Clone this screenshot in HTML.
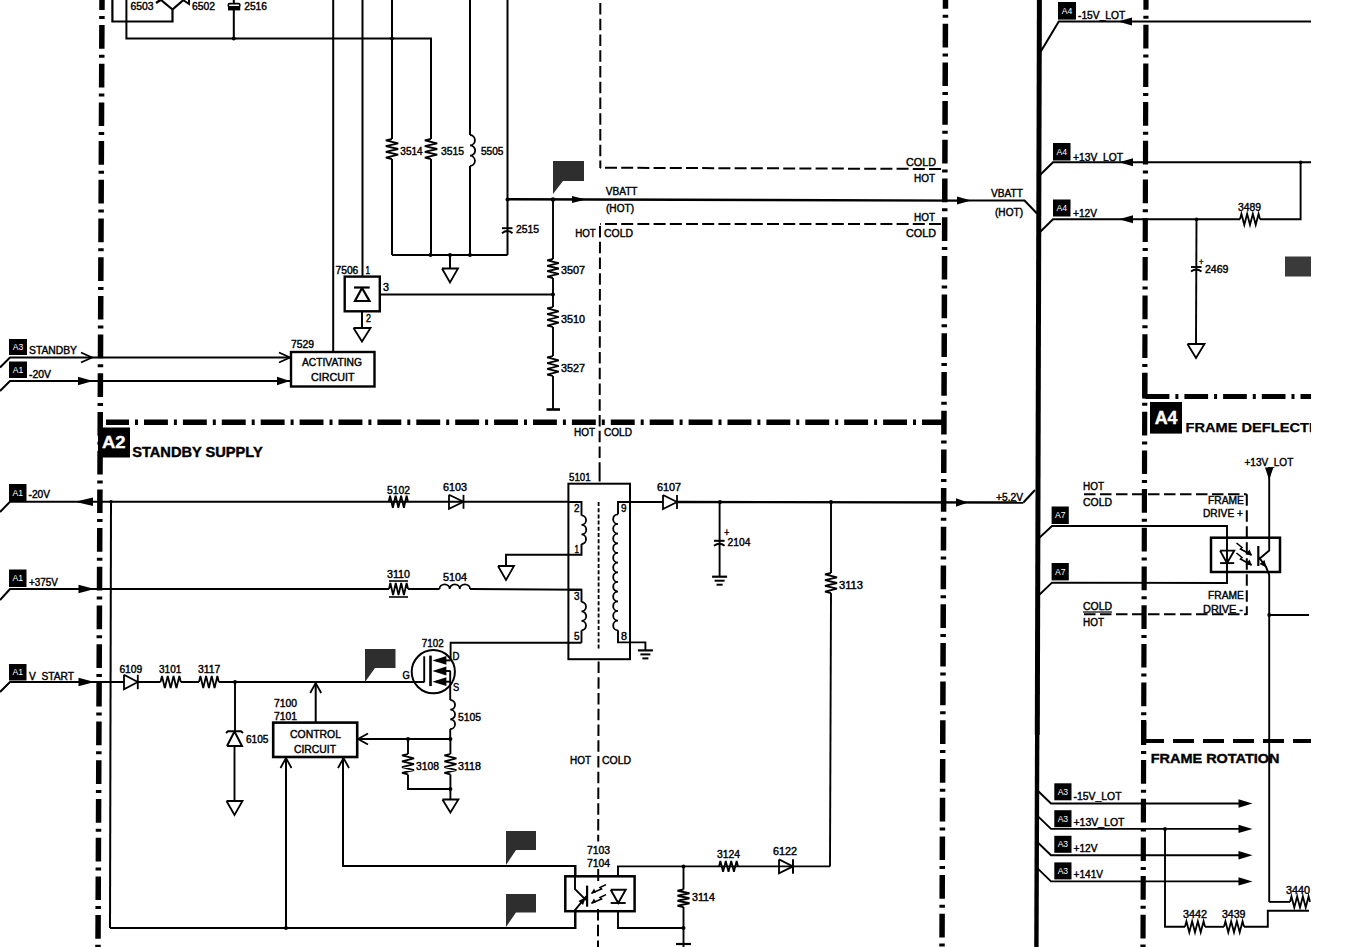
<!DOCTYPE html>
<html><head><meta charset="utf-8">
<style>
html,body{margin:0;padding:0;background:#fff;}
body{width:1345px;height:947px;overflow:hidden;}
svg{display:block;font-family:"Liberation Sans",sans-serif;}
</style></head><body>
<svg width="1345" height="947" viewBox="0 0 1345 947" stroke="#000" stroke-linecap="butt" stroke-linejoin="miter">
<rect x="0" y="0" width="1345" height="947" fill="#fff" stroke="none"/>
<line x1="102" y1="0" x2="98" y2="947" stroke-width="5.5" stroke-dasharray="23.7 6 3 6" stroke-dashoffset="13.7"/>
<line x1="945.5" y1="0" x2="942" y2="947" stroke-width="5.5" stroke-dasharray="23.7 6 3 6" stroke-dashoffset="15"/>
<line x1="1146" y1="0" x2="1143" y2="947" stroke-width="5.2" stroke-dasharray="23.7 6 3 6" stroke-dashoffset="14"/>
<line x1="106" y1="422.3" x2="945" y2="422.3" stroke-width="5.5" stroke-dasharray="23.9 6 3 6" stroke-dashoffset="0.9"/>
<line x1="1145" y1="396.5" x2="1311" y2="396.5" stroke-width="5.2" stroke-dasharray="23.7 6 3 6" stroke-dashoffset="38"/>
<line x1="1144.8" y1="372.7" x2="1144.8" y2="398.5" stroke-width="5"/>
<line x1="1142.5" y1="396.2" x2="1168" y2="396.2" stroke-width="4.2"/>
<line x1="1143" y1="741" x2="1311" y2="741" stroke-width="3.8" stroke-dasharray="21 9" stroke-dashoffset="0"/>
<line x1="1143.65" y1="720" x2="1143.65" y2="743" stroke-width="5.2"/>
<line x1="1039.4" y1="0" x2="1037.3" y2="735" stroke-width="5"/>
<line x1="1037.2" y1="735" x2="1036.4" y2="947" stroke-width="4.4"/>
<polyline points="112.4,0 112.4,21.5 172.5,21.5 172.5,9.5" stroke-width="2.2" fill="none"/>
<line x1="172.5" y1="9.5" x2="161" y2="0" stroke-width="2.2"/>
<line x1="156" y1="3" x2="162" y2="-1" stroke-width="2.4"/>
<line x1="172.5" y1="9.5" x2="183.5" y2="0" stroke-width="2.2"/>
<polyline points="183,0 189,4 189,0" stroke-width="2" fill="none"/>
<text x="130.4" y="10.2" font-size="10" font-weight="normal" fill="#000" stroke="#000" stroke-width="0.4" textLength="23.1" lengthAdjust="spacingAndGlyphs">6503</text>
<text x="192" y="10.2" font-size="10" font-weight="normal" fill="#000" stroke="#000" stroke-width="0.4" textLength="23" lengthAdjust="spacingAndGlyphs">6502</text>
<polyline points="126.4,0 126.4,38.5 431,38.5 431,139" stroke-width="2" fill="none"/>
<line x1="233.8" y1="0" x2="233.8" y2="38.5" stroke-width="2"/>
<rect x="228.3" y="3.6" width="11.6" height="3.2" rx="1.4" stroke-width="1.6" fill="#fff"/>
<rect x="228" y="7" width="12.2" height="3.4" stroke="none" fill="#000"/>
<text x="244.2" y="10.2" font-size="10" font-weight="normal" fill="#000" stroke="#000" stroke-width="0.4" textLength="22.8" lengthAdjust="spacingAndGlyphs">2516</text>
<circle cx="233.8" cy="38.5" r="2" fill="#000" stroke="none"/>
<circle cx="392" cy="38.5" r="2" fill="#000" stroke="none"/>
<line x1="333.2" y1="0" x2="333.2" y2="351" stroke-width="2"/>
<line x1="362.5" y1="0" x2="362.5" y2="276" stroke-width="2"/>
<line x1="392" y1="0" x2="392" y2="139" stroke-width="2"/>
<polyline points="392,139 385.8,140.43 398.2,143.29 385.8,146.14 398.2,149 385.8,151.86 398.2,154.71 385.8,157.57 392,159" stroke-width="1.8" fill="none"/>
<line x1="392" y1="159" x2="392" y2="255" stroke-width="2"/>
<polyline points="431,139 424.8,140.43 437.2,143.29 424.8,146.14 437.2,149 424.8,151.86 437.2,154.71 424.8,157.57 431,159" stroke-width="1.8" fill="none"/>
<line x1="431" y1="159" x2="431" y2="255" stroke-width="2"/>
<line x1="470" y1="0" x2="470" y2="135" stroke-width="2"/>
<path d="M470,135 A5.17,5.17 0 0 1 470,145.33 A5.17,5.17 0 0 1 470,155.67 A5.17,5.17 0 0 1 470,166" stroke-width="1.8" fill="none"/>
<line x1="470" y1="166" x2="470" y2="255" stroke-width="2"/>
<text x="400.3" y="154.5" font-size="10" font-weight="normal" fill="#000" stroke="#000" stroke-width="0.4" textLength="22.4" lengthAdjust="spacingAndGlyphs">3514</text>
<text x="441" y="154.5" font-size="10" font-weight="normal" fill="#000" stroke="#000" stroke-width="0.4" textLength="23" lengthAdjust="spacingAndGlyphs">3515</text>
<text x="481" y="154.5" font-size="10" font-weight="normal" fill="#000" stroke="#000" stroke-width="0.4" textLength="22.5" lengthAdjust="spacingAndGlyphs">5505</text>
<line x1="507.5" y1="0" x2="507.5" y2="255" stroke-width="2"/>
<polyline points="392,255 507.5,255" stroke-width="2" fill="none"/>
<circle cx="430.5" cy="255" r="2" fill="#000" stroke="none"/>
<circle cx="470" cy="255" r="2" fill="#000" stroke="none"/>
<circle cx="450" cy="255" r="2" fill="#000" stroke="none"/>
<line x1="450" y1="255" x2="450" y2="268.5" stroke-width="2"/>
<polyline points="442,268.5 458,268.5 450,282.5 442,268.5" stroke-width="1.8" fill="none"/>
<line x1="502" y1="228.2" x2="512.5" y2="228.2" stroke-width="1.9"/>
<path d="M502,233.2 Q507.5,228.8 512.5,233.2" stroke-width="1.9" fill="none"/>
<text x="516" y="233.3" font-size="10" font-weight="normal" fill="#000" stroke="#000" stroke-width="0.4" textLength="23" lengthAdjust="spacingAndGlyphs">2515</text>
<line x1="507.5" y1="199.3" x2="960" y2="200.6" stroke-width="2.4"/>
<circle cx="507.5" cy="199.5" r="2" fill="#000" stroke="none"/>
<circle cx="553" cy="199.5" r="2.2" fill="#000" stroke="none"/>
<polygon points="586,199.5 572,195.9 572,203.1" fill="#000" stroke="none" stroke-width="0"/>
<polygon points="553,161 584,161 584,181 563,181 553,194" fill="#2e2e2e" stroke="none" stroke-width="0"/>
<polyline points="553,199.5 553,259" stroke-width="1.9" fill="none"/>
<line x1="553" y1="278" x2="553" y2="307" stroke-width="1.9"/>
<line x1="553" y1="327" x2="553" y2="356" stroke-width="1.9"/>
<line x1="553" y1="376" x2="553" y2="409.5" stroke-width="1.9"/>
<polyline points="553,259 547.2,260.36 558.8,263.07 547.2,265.79 558.8,268.5 547.2,271.21 558.8,273.93 547.2,276.64 553,278" stroke-width="1.8" fill="none"/>
<polyline points="553,307 547.2,308.43 558.8,311.29 547.2,314.14 558.8,317 547.2,319.86 558.8,322.71 547.2,325.57 553,327" stroke-width="1.8" fill="none"/>
<polyline points="553,356 547.2,357.43 558.8,360.29 547.2,363.14 558.8,366 547.2,368.86 558.8,371.71 547.2,374.57 553,376" stroke-width="1.8" fill="none"/>
<line x1="546.5" y1="409.5" x2="560" y2="409.5" stroke-width="2.6"/>
<circle cx="553" cy="294.5" r="1.9" fill="#000" stroke="none"/>
<text x="561" y="273.5" font-size="10" font-weight="normal" fill="#000" stroke="#000" stroke-width="0.4" textLength="24" lengthAdjust="spacingAndGlyphs">3507</text>
<text x="561" y="322.5" font-size="10" font-weight="normal" fill="#000" stroke="#000" stroke-width="0.4" textLength="24" lengthAdjust="spacingAndGlyphs">3510</text>
<text x="561" y="371.5" font-size="10" font-weight="normal" fill="#000" stroke="#000" stroke-width="0.4" textLength="24" lengthAdjust="spacingAndGlyphs">3527</text>
<line x1="381" y1="294.5" x2="553" y2="294.5" stroke-width="1.9"/>
<rect x="344.7" y="276.6" width="35.1" height="34.7" stroke-width="2.4" fill="none"/>
<line x1="354" y1="287.5" x2="369.7" y2="287.5" stroke-width="2.2"/>
<polyline points="362,288 355,301 369.5,301 362,288" stroke-width="2.2" fill="none"/>
<text x="335.5" y="273.5" font-size="10" font-weight="normal" fill="#000" stroke="#000" stroke-width="0.4" textLength="22.8" lengthAdjust="spacingAndGlyphs">7506</text>
<text x="365.5" y="273.5" font-size="10" font-weight="normal" fill="#000" stroke="#000" stroke-width="0.4" textLength="4.5" lengthAdjust="spacingAndGlyphs">1</text>
<text x="383" y="291" font-size="10" font-weight="normal" fill="#000" stroke="#000" stroke-width="0.4" textLength="6" lengthAdjust="spacingAndGlyphs">3</text>
<text x="366" y="322" font-size="10" font-weight="normal" fill="#000" stroke="#000" stroke-width="0.4" textLength="5" lengthAdjust="spacingAndGlyphs">2</text>
<line x1="362" y1="312" x2="362" y2="328" stroke-width="2"/>
<polyline points="353.5,328 370.5,328 362,341.5 353.5,328" stroke-width="1.8" fill="none"/>
<rect x="291" y="352" width="83.5" height="34.5" stroke-width="2.4" fill="none"/>
<text x="302" y="366" font-size="10" font-weight="normal" fill="#000" stroke="#000" stroke-width="0.4" textLength="60" lengthAdjust="spacingAndGlyphs">ACTIVATING</text>
<text x="311" y="381" font-size="10" font-weight="normal" fill="#000" stroke="#000" stroke-width="0.4" textLength="43.5" lengthAdjust="spacingAndGlyphs">CIRCUIT</text>
<text x="291" y="347.5" font-size="10" font-weight="normal" fill="#000" stroke="#000" stroke-width="0.4" textLength="23" lengthAdjust="spacingAndGlyphs">7529</text>
<rect x="9" y="339" width="18" height="16" stroke="none" fill="#000"/>
<text x="18" y="350" font-size="8.6" text-anchor="middle" fill="#fff" stroke="none">A3</text>
<text x="29" y="354" font-size="10" font-weight="normal" fill="#000" stroke="#000" stroke-width="0.4" textLength="48" lengthAdjust="spacingAndGlyphs">STANDBY</text>
<polyline points="0,367.5 10,357.5 290,357.5" stroke-width="2" fill="none"/>
<polyline points="81,352.5 92,357.5 81,362.5" stroke-width="1.8" fill="none"/>
<polyline points="279,352.5 290,357.5 279,362.5" stroke-width="1.8" fill="none"/>
<rect x="9" y="361.5" width="18" height="16.5" stroke="none" fill="#000"/>
<text x="18" y="372.75" font-size="8.6" text-anchor="middle" fill="#fff" stroke="none">A1</text>
<text x="29" y="378" font-size="10" font-weight="normal" fill="#000" stroke="#000" stroke-width="0.4" textLength="22" lengthAdjust="spacingAndGlyphs">-20V</text>
<polyline points="0,391 10,381 290,381" stroke-width="2" fill="none"/>
<polygon points="93,381 78,376.8 78,385.2" fill="#000" stroke="none" stroke-width="0"/>
<polygon points="290,381 277,376.8 277,385.2" fill="#000" stroke="none" stroke-width="0"/>
<line x1="600.3" y1="3" x2="600.3" y2="168" stroke-width="2" stroke-dasharray="11.5 4.25" stroke-dashoffset="0"/>
<line x1="600" y1="167.7" x2="945" y2="169" stroke-width="2" stroke-dasharray="12 4.2" stroke-dashoffset="-5"/>
<text x="605.7" y="195" font-size="10" font-weight="normal" fill="#000" stroke="#000" stroke-width="0.4" textLength="31.8" lengthAdjust="spacingAndGlyphs">VBATT</text>
<text x="606" y="212" font-size="10" font-weight="normal" fill="#000" stroke="#000" stroke-width="0.4" textLength="28" lengthAdjust="spacingAndGlyphs">(HOT)</text>
<line x1="600" y1="224" x2="945" y2="224" stroke-width="2" stroke-dasharray="12 4.2" stroke-dashoffset="-5"/>
<text x="575.2" y="237" font-size="10" font-weight="normal" fill="#000" stroke="#000" stroke-width="0.4" textLength="20.6" lengthAdjust="spacingAndGlyphs">HOT</text>
<text x="604" y="237" font-size="10" font-weight="normal" fill="#000" stroke="#000" stroke-width="0.4" textLength="29" lengthAdjust="spacingAndGlyphs">COLD</text>
<line x1="600" y1="226" x2="599.6" y2="470" stroke-width="2" stroke-dasharray="11.5 4.25" stroke-dashoffset="0"/>
<text x="906" y="166" font-size="10" font-weight="normal" fill="#000" stroke="#000" stroke-width="0.4" textLength="30" lengthAdjust="spacingAndGlyphs">COLD</text>
<text x="914" y="182" font-size="10" font-weight="normal" fill="#000" stroke="#000" stroke-width="0.4" textLength="21" lengthAdjust="spacingAndGlyphs">HOT</text>
<text x="914" y="221" font-size="10" font-weight="normal" fill="#000" stroke="#000" stroke-width="0.4" textLength="21" lengthAdjust="spacingAndGlyphs">HOT</text>
<text x="906" y="237" font-size="10" font-weight="normal" fill="#000" stroke="#000" stroke-width="0.4" textLength="30" lengthAdjust="spacingAndGlyphs">COLD</text>
<text x="574" y="436" font-size="10" font-weight="normal" fill="#000" stroke="#000" stroke-width="0.4" textLength="21" lengthAdjust="spacingAndGlyphs">HOT</text>
<text x="604" y="436" font-size="10" font-weight="normal" fill="#000" stroke="#000" stroke-width="0.4" textLength="28" lengthAdjust="spacingAndGlyphs">COLD</text>
<polygon points="971,200.6 957,196.6 957,204.6" fill="#000" stroke="none" stroke-width="0"/>
<polyline points="960,200.6 1024.5,200.6 1037,213.5" stroke-width="2" fill="none"/>
<text x="991" y="197" font-size="10" font-weight="normal" fill="#000" stroke="#000" stroke-width="0.4" textLength="32" lengthAdjust="spacingAndGlyphs">VBATT</text>
<text x="995" y="215.5" font-size="10" font-weight="normal" fill="#000" stroke="#000" stroke-width="0.4" textLength="28" lengthAdjust="spacingAndGlyphs">(HOT)</text>
<rect x="98" y="427.5" width="32" height="30" stroke="none" fill="#000"/>
<text x="102" y="448" font-size="16" font-weight="bold" fill="#fff" stroke="#fff" stroke-width="0.4" textLength="23.5" lengthAdjust="spacingAndGlyphs">A2</text>
<text x="132.2" y="457.3" font-size="14" font-weight="bold" fill="#000" stroke="#000" stroke-width="0.4" textLength="130.5" lengthAdjust="spacingAndGlyphs">STANDBY SUPPLY</text>
<rect x="9" y="484" width="17.5" height="17" stroke="none" fill="#000"/>
<text x="17.75" y="495.5" font-size="8.6" text-anchor="middle" fill="#fff" stroke="none">A1</text>
<text x="28.5" y="497.5" font-size="10" font-weight="normal" fill="#000" stroke="#000" stroke-width="0.4" textLength="21.5" lengthAdjust="spacingAndGlyphs">-20V</text>
<polyline points="0,512 10,501.8 568.3,501.8" stroke-width="2" fill="none"/>
<polygon points="75,501.8 93,497.6 93,506" fill="#000" stroke="none" stroke-width="0"/>
<circle cx="111" cy="501.8" r="1.8" fill="#000" stroke="none"/>
<line x1="111" y1="501.8" x2="110" y2="928" stroke-width="2"/>
<polyline points="388.7,501.8 390.08,495.8 392.84,507.8 395.59,495.8 398.35,507.8 401.11,495.8 403.86,507.8 406.62,495.8 408,501.8" stroke-width="1.8" fill="none"/>
<polyline points="449,494.8 463.5,501.8 449,508.8 449,494.8" stroke-width="1.8" fill="none"/>
<line x1="463.5" y1="494.8" x2="463.5" y2="508.8" stroke-width="1.8"/>
<text x="387" y="494" font-size="10" font-weight="normal" fill="#000" stroke="#000" stroke-width="0.4" textLength="23" lengthAdjust="spacingAndGlyphs">5102</text>
<text x="443" y="491" font-size="10" font-weight="normal" fill="#000" stroke="#000" stroke-width="0.4" textLength="24" lengthAdjust="spacingAndGlyphs">6103</text>
<rect x="9" y="569.5" width="17.5" height="17.5" stroke="none" fill="#000"/>
<text x="17.75" y="581.25" font-size="8.6" text-anchor="middle" fill="#fff" stroke="none">A1</text>
<text x="29" y="585.5" font-size="10" font-weight="normal" fill="#000" stroke="#000" stroke-width="0.4" textLength="29" lengthAdjust="spacingAndGlyphs">+375V</text>
<polyline points="0,600 10,589 389,589" stroke-width="2" fill="none"/>
<polygon points="94.5,589 78.5,584.8 78.5,593.2" fill="#000" stroke="none" stroke-width="0"/>
<polyline points="389,589 390.36,583 393.07,595 395.79,583 398.5,595 401.21,583 403.93,595 406.64,583 408,589" stroke-width="1.8" fill="none"/>
<line x1="389" y1="581" x2="408" y2="581" stroke-width="1.6"/>
<line x1="389" y1="597" x2="408" y2="597" stroke-width="1.6"/>
<text x="387" y="578" font-size="10" font-weight="normal" fill="#000" stroke="#000" stroke-width="0.4" textLength="23" lengthAdjust="spacingAndGlyphs">3110</text>
<line x1="408" y1="589" x2="439.5" y2="589" stroke-width="2"/>
<path d="M439.5,589 A5.08,4.58 0 0 1 449.67,589 A5.08,4.58 0 0 1 459.83,589 A5.08,4.58 0 0 1 470,589" stroke-width="1.8" fill="none"/>
<polyline points="470,589 581.5,589.8" stroke-width="2" fill="none"/>
<text x="443" y="581" font-size="10" font-weight="normal" fill="#000" stroke="#000" stroke-width="0.4" textLength="24" lengthAdjust="spacingAndGlyphs">5104</text>
<rect x="9" y="664" width="17.5" height="16.5" stroke="none" fill="#000"/>
<text x="17.75" y="675.25" font-size="8.6" text-anchor="middle" fill="#fff" stroke="none">A1</text>
<text x="29" y="679.5" font-size="10" font-weight="normal" fill="#000" stroke="#000" stroke-width="0.4" textLength="45" lengthAdjust="spacingAndGlyphs">V_START</text>
<polyline points="0,692 10,682 124,682" stroke-width="2" fill="none"/>
<polygon points="94.5,682 78.5,677.8 78.5,686.2" fill="#000" stroke="none" stroke-width="0"/>
<polyline points="124,674.8 137.8,682 124,689.2 124,674.8" stroke-width="1.8" fill="none"/>
<line x1="137.8" y1="674.8" x2="137.8" y2="689.2" stroke-width="1.8"/>
<line x1="137.8" y1="682" x2="160.5" y2="682" stroke-width="2"/>
<polyline points="160.5,682 161.95,676 164.85,688 167.75,676 170.65,688 173.55,676 176.45,688 179.35,676 180.8,682" stroke-width="1.8" fill="none"/>
<line x1="180.8" y1="682" x2="199" y2="682" stroke-width="2"/>
<polyline points="199,682 200.41,676 203.24,688 206.07,676 208.9,688 211.73,676 214.56,688 217.39,676 218.8,682" stroke-width="1.8" fill="none"/>
<line x1="218.8" y1="682" x2="424.2" y2="682" stroke-width="2.2"/>
<text x="119.4" y="672.5" font-size="10" font-weight="normal" fill="#000" stroke="#000" stroke-width="0.4" textLength="22.9" lengthAdjust="spacingAndGlyphs">6109</text>
<text x="159" y="672.5" font-size="10" font-weight="normal" fill="#000" stroke="#000" stroke-width="0.4" textLength="22.3" lengthAdjust="spacingAndGlyphs">3101</text>
<text x="198" y="672.5" font-size="10" font-weight="normal" fill="#000" stroke="#000" stroke-width="0.4" textLength="22.3" lengthAdjust="spacingAndGlyphs">3117</text>
<circle cx="235" cy="682" r="2" fill="#000" stroke="none"/>
<line x1="235" y1="682" x2="235" y2="731" stroke-width="1.9"/>
<polyline points="227,746 242,746 234.5,731.5 227,746" stroke-width="2" fill="none"/>
<polyline points="226,733 228,731.2 241,731.2 243,733" stroke-width="2" fill="none"/>
<line x1="234.5" y1="746" x2="234.5" y2="801" stroke-width="1.9"/>
<polyline points="226.5,801 242.5,801 234.5,815 226.5,801" stroke-width="1.8" fill="none"/>
<text x="246" y="743" font-size="10" font-weight="normal" fill="#000" stroke="#000" stroke-width="0.4" textLength="22.5" lengthAdjust="spacingAndGlyphs">6105</text>
<rect x="273.2" y="722.6" width="84" height="34.4" stroke-width="2.6" fill="none"/>
<text x="290" y="738" font-size="10" font-weight="normal" fill="#000" stroke="#000" stroke-width="0.4" textLength="51" lengthAdjust="spacingAndGlyphs">CONTROL</text>
<text x="294" y="752.5" font-size="10" font-weight="normal" fill="#000" stroke="#000" stroke-width="0.4" textLength="42" lengthAdjust="spacingAndGlyphs">CIRCUIT</text>
<text x="274" y="707" font-size="10" font-weight="normal" fill="#000" stroke="#000" stroke-width="0.4" textLength="23" lengthAdjust="spacingAndGlyphs">7100</text>
<text x="274" y="719.5" font-size="10" font-weight="normal" fill="#000" stroke="#000" stroke-width="0.4" textLength="23" lengthAdjust="spacingAndGlyphs">7101</text>
<line x1="315.7" y1="723" x2="315.7" y2="683" stroke-width="2"/>
<polyline points="310.2,693 315.7,683 321.2,693" stroke-width="1.8" fill="none"/>
<line x1="286" y1="928" x2="286" y2="758" stroke-width="2"/>
<polyline points="280.5,768 286,758 291.5,768" stroke-width="1.8" fill="none"/>
<polyline points="343,758 343,866 575.5,866 575.5,876" stroke-width="2" fill="none"/>
<polyline points="338,768 343.5,758 349,768" stroke-width="1.8" fill="none"/>
<polyline points="110,928 575.5,928 575.5,912" stroke-width="2" fill="none"/>
<circle cx="286" cy="928" r="2" fill="#000" stroke="none"/>
<line x1="358" y1="739" x2="450.4" y2="739" stroke-width="1.9"/>
<polyline points="368,733.5 358,739 368,744.5" stroke-width="1.8" fill="none"/>
<circle cx="408" cy="739" r="2" fill="#000" stroke="none"/>
<circle cx="450.4" cy="739" r="2" fill="#000" stroke="none"/>
<line x1="408" y1="739" x2="408" y2="754" stroke-width="1.9"/>
<polyline points="408,754 402,755.46 414,758.37 402,761.29 414,764.2 402,767.11 414,770.03 402,772.94 408,774.4" stroke-width="1.8" fill="none"/>
<polyline points="408,774.4 408,789 450.4,789" stroke-width="1.9" fill="none"/>
<line x1="450.4" y1="739" x2="450.4" y2="754" stroke-width="1.9"/>
<polyline points="450.4,754 444.4,755.46 456.4,758.37 444.4,761.29 456.4,764.2 444.4,767.11 456.4,770.03 444.4,772.94 450.4,774.4" stroke-width="1.8" fill="none"/>
<line x1="450.4" y1="774.4" x2="450.4" y2="799.5" stroke-width="1.9"/>
<circle cx="450.4" cy="789" r="2" fill="#000" stroke="none"/>
<polyline points="442.4,799.5 458.4,799.5 450.4,812.5 442.4,799.5" stroke-width="1.8" fill="none"/>
<text x="416" y="770" font-size="10" font-weight="normal" fill="#000" stroke="#000" stroke-width="0.4" textLength="23" lengthAdjust="spacingAndGlyphs">3108</text>
<text x="458" y="770" font-size="10" font-weight="normal" fill="#000" stroke="#000" stroke-width="0.4" textLength="23" lengthAdjust="spacingAndGlyphs">3118</text>
<polygon points="365,649 395.5,649 395.5,668 375,668 365,682" fill="#2e2e2e" stroke="none" stroke-width="0"/>
<polygon points="506,831 536,831 536,850 516,850 506,865" fill="#2e2e2e" stroke="none" stroke-width="0"/>
<polygon points="506,894 536,894 536,912.5 516,912.5 506,927" fill="#2e2e2e" stroke="none" stroke-width="0"/>
<circle cx="433.3" cy="671.7" r="21.6" stroke-width="2" fill="none"/>
<line x1="424.2" y1="682.3" x2="424.2" y2="656.3" stroke-width="1.9"/>
<line x1="430.5" y1="655.6" x2="430.5" y2="686.1" stroke-width="2.6"/>
<line x1="436" y1="660.4" x2="450.6" y2="660.4" stroke-width="1.9"/>
<polygon points="432.4,660.4 446.4,656 446.4,664.8" fill="#000" stroke="none" stroke-width="0"/>
<line x1="436" y1="671" x2="450.6" y2="671" stroke-width="1.9"/>
<polygon points="432.4,671 446.4,666.6 446.4,675.4" fill="#000" stroke="none" stroke-width="0"/>
<line x1="436" y1="681.7" x2="450.6" y2="681.7" stroke-width="1.9"/>
<polygon points="432.4,681.7 446.4,677.3 446.4,686.1" fill="#000" stroke="none" stroke-width="0"/>
<polyline points="581.5,642.8 450.6,642.8 450.6,660.4" stroke-width="1.9" fill="none"/>
<polyline points="450.2,671 450.2,700" stroke-width="1.9" fill="none"/>
<path d="M450.2,700 A4.83,4.83 0 0 1 450.2,709.67 A4.83,4.83 0 0 1 450.2,719.33 A4.83,4.83 0 0 1 450.2,729" stroke-width="1.8" fill="none"/>
<line x1="450.2" y1="729" x2="450.2" y2="739" stroke-width="1.9"/>
<text x="421.8" y="646.5" font-size="10" font-weight="normal" fill="#000" stroke="#000" stroke-width="0.4" textLength="21.9" lengthAdjust="spacingAndGlyphs">7102</text>
<text x="452.6" y="660.4" font-size="10" font-weight="normal" fill="#000" stroke="#000" stroke-width="0.4" textLength="6.9" lengthAdjust="spacingAndGlyphs">D</text>
<text x="402.5" y="679" font-size="10" font-weight="normal" fill="#000" stroke="#000" stroke-width="0.4" textLength="7.3" lengthAdjust="spacingAndGlyphs">G</text>
<text x="453" y="690.5" font-size="10" font-weight="normal" fill="#000" stroke="#000" stroke-width="0.4" textLength="6.2" lengthAdjust="spacingAndGlyphs">S</text>
<text x="458" y="721" font-size="10" font-weight="normal" fill="#000" stroke="#000" stroke-width="0.4" textLength="23" lengthAdjust="spacingAndGlyphs">5105</text>
<rect x="568.4" y="483.7" width="61.6" height="175.5" stroke-width="2" fill="none"/>
<text x="569" y="480.5" font-size="10" font-weight="normal" fill="#000" stroke="#000" stroke-width="0.4" textLength="21.6" lengthAdjust="spacingAndGlyphs">5101</text>
<polyline points="568.3,502 581.5,502 581.5,515.4" stroke-width="1.9" fill="none"/>
<path d="M581.5,515.4 A4.77,4.77 0 0 1 581.5,524.93 A4.77,4.77 0 0 1 581.5,534.47 A4.77,4.77 0 0 1 581.5,544" stroke-width="1.8" fill="none"/>
<polyline points="581.5,544 581.5,554.8 506,554.8 506,566" stroke-width="1.9" fill="none"/>
<polyline points="498,566 514,566 506,580 498,566" stroke-width="1.8" fill="none"/>
<polyline points="568.3,589.8 581.5,589.8 581.5,602" stroke-width="1.9" fill="none"/>
<path d="M581.5,602 A4.72,4.72 0 0 1 581.5,611.43 A4.72,4.72 0 0 1 581.5,620.87 A4.72,4.72 0 0 1 581.5,630.3" stroke-width="1.8" fill="none"/>
<polyline points="581.5,630.3 581.5,642.8" stroke-width="1.9" fill="none"/>
<text x="574" y="512.2" font-size="10" font-weight="normal" fill="#000" stroke="#000" stroke-width="0.4" textLength="5.5" lengthAdjust="spacingAndGlyphs">2</text>
<text x="574.5" y="553" font-size="10" font-weight="normal" fill="#000" stroke="#000" stroke-width="0.4" textLength="4.5" lengthAdjust="spacingAndGlyphs">1</text>
<text x="574" y="599.5" font-size="10" font-weight="normal" fill="#000" stroke="#000" stroke-width="0.4" textLength="5.5" lengthAdjust="spacingAndGlyphs">3</text>
<text x="574" y="640" font-size="10" font-weight="normal" fill="#000" stroke="#000" stroke-width="0.4" textLength="5.5" lengthAdjust="spacingAndGlyphs">5</text>
<polyline points="630,502 618,502 618,514.3" stroke-width="1.9" fill="none"/>
<path d="M618,514.3 A4.83,4.83 0 0 0 618,523.97 A4.83,4.83 0 0 0 618,533.63 A4.83,4.83 0 0 0 618,543.3 A4.83,4.83 0 0 0 618,552.97 A4.83,4.83 0 0 0 618,562.63 A4.83,4.83 0 0 0 618,572.3 A4.83,4.83 0 0 0 618,581.97 A4.83,4.83 0 0 0 618,591.63 A4.83,4.83 0 0 0 618,601.3 A4.83,4.83 0 0 0 618,610.97 A4.83,4.83 0 0 0 618,620.63 A4.83,4.83 0 0 0 618,630.3" stroke-width="1.8" fill="none"/>
<polyline points="618,630.3 618,642.4 645.4,642.4 645.4,650.4" stroke-width="1.9" fill="none"/>
<line x1="637.9" y1="650.4" x2="652.9" y2="650.4" stroke-width="2.2"/>
<line x1="640.4" y1="654.4" x2="650.4" y2="654.4" stroke-width="2"/>
<line x1="642.4" y1="658.4" x2="648.4" y2="658.4" stroke-width="2"/>
<text x="621" y="512.2" font-size="10" font-weight="normal" fill="#000" stroke="#000" stroke-width="0.4" textLength="5.5" lengthAdjust="spacingAndGlyphs">9</text>
<text x="621" y="640" font-size="10" font-weight="normal" fill="#000" stroke="#000" stroke-width="0.4" textLength="6" lengthAdjust="spacingAndGlyphs">8</text>
<line x1="598.6" y1="502" x2="598.6" y2="650" stroke-width="1.8" stroke-dasharray="4 2.2" stroke-dashoffset="0"/>
<polyline points="630,502 663,502" stroke-width="2.2" fill="none"/>
<polyline points="663,495 677,502 663,509 663,495" stroke-width="1.8" fill="none"/>
<line x1="677" y1="495" x2="677" y2="509" stroke-width="1.8"/>
<line x1="677" y1="502" x2="1023.4" y2="502.5" stroke-width="2.4"/>
<polyline points="1023.4,502.5 1035,490" stroke-width="2" fill="none"/>
<polygon points="968,502.5 956,498.3 956,506.7" fill="#000" stroke="none" stroke-width="0"/>
<text x="657" y="491" font-size="10" font-weight="normal" fill="#000" stroke="#000" stroke-width="0.4" textLength="24" lengthAdjust="spacingAndGlyphs">6107</text>
<text x="996" y="501" font-size="10" font-weight="normal" fill="#000" stroke="#000" stroke-width="0.4" textLength="27" lengthAdjust="spacingAndGlyphs">+5.2V</text>
<circle cx="720" cy="502" r="2" fill="#000" stroke="none"/>
<line x1="719.6" y1="502" x2="719.6" y2="576.7" stroke-width="1.9"/>
<line x1="714" y1="540.8" x2="724.6" y2="540.8" stroke-width="2"/>
<path d="M714,545.8 Q719.6,541.6 724.6,545.8" stroke-width="1.9" fill="none"/>
<line x1="712.1" y1="576.7" x2="727.1" y2="576.7" stroke-width="2.2"/>
<line x1="714.6" y1="580.7" x2="724.6" y2="580.7" stroke-width="2"/>
<line x1="716.6" y1="584.7" x2="722.6" y2="584.7" stroke-width="2"/>
<text x="724.2" y="536" font-size="10" font-weight="normal" fill="#000" stroke="#000" stroke-width="0.4" textLength="5.1" lengthAdjust="spacingAndGlyphs">+</text>
<text x="727.6" y="546" font-size="10" font-weight="normal" fill="#000" stroke="#000" stroke-width="0.4" textLength="22.8" lengthAdjust="spacingAndGlyphs">2104</text>
<circle cx="831" cy="502" r="2" fill="#000" stroke="none"/>
<line x1="831" y1="502" x2="831" y2="573" stroke-width="1.9"/>
<polyline points="831,573 825,574.43 837,577.29 825,580.14 837,583 825,585.86 837,588.71 825,591.57 831,593" stroke-width="1.8" fill="none"/>
<line x1="831" y1="593" x2="830" y2="866.4" stroke-width="1.9"/>
<text x="839" y="589" font-size="10" font-weight="normal" fill="#000" stroke="#000" stroke-width="0.4" textLength="24" lengthAdjust="spacingAndGlyphs">3113</text>
<text x="570" y="763.5" font-size="10" font-weight="normal" fill="#000" stroke="#000" stroke-width="0.4" textLength="21" lengthAdjust="spacingAndGlyphs">HOT</text>
<text x="602" y="763.5" font-size="10" font-weight="normal" fill="#000" stroke="#000" stroke-width="0.4" textLength="29" lengthAdjust="spacingAndGlyphs">COLD</text>
<line x1="599.6" y1="470" x2="599.6" y2="483" stroke-width="2" stroke-dasharray="11.5 4.25" stroke-dashoffset="0"/>
<line x1="598.6" y1="661.4" x2="598.2" y2="841.5" stroke-width="2" stroke-dasharray="11.5 4.25" stroke-dashoffset="0"/>
<line x1="598.2" y1="869" x2="598.2" y2="881" stroke-width="2"/>
<line x1="598" y1="909" x2="598" y2="947" stroke-width="2" stroke-dasharray="11.5 4.25" stroke-dashoffset="0"/>
<rect x="565.3" y="876.3" width="69.3" height="34.9" stroke-width="2.5" fill="none"/>
<text x="587" y="853.5" font-size="10" font-weight="normal" fill="#000" stroke="#000" stroke-width="0.4" textLength="23" lengthAdjust="spacingAndGlyphs">7103</text>
<text x="587" y="866.5" font-size="10" font-weight="normal" fill="#000" stroke="#000" stroke-width="0.4" textLength="23" lengthAdjust="spacingAndGlyphs">7104</text>
<polyline points="575,866 575,889.2 586.1,900.2" stroke-width="1.9" fill="none"/>
<line x1="587.1" y1="885.6" x2="587.1" y2="906.7" stroke-width="2.2"/>
<polyline points="586.5,896 575,910.2 575,928" stroke-width="1.9" fill="none"/>
<polygon points="586,897 578.5,901 583,905" fill="#000" stroke="none" stroke-width="0"/>
<polyline points="606,884.6 600,887.5 601.5,889 591.5,893.2" stroke-width="1.6" fill="none"/>
<polygon points="591.1,893.4 594,888.5 596,892.5" fill="#000" stroke="none" stroke-width="0"/>
<polyline points="606,894.6 600,897.5 601.5,899 591.5,903.2" stroke-width="1.6" fill="none"/>
<polygon points="591.1,903.4 594,898.5 596,902.5" fill="#000" stroke="none" stroke-width="0"/>
<polyline points="610.7,889.7 625.7,889.7 618.2,903 610.7,889.7" stroke-width="1.9" fill="none"/>
<line x1="610.7" y1="903" x2="625.7" y2="903" stroke-width="1.9"/>
<polyline points="618,876 618,866.4 830,866.4" stroke-width="1.9" fill="none"/>
<polyline points="618,912 618,928 683.5,928" stroke-width="1.9" fill="none"/>
<circle cx="683.5" cy="866.4" r="2" fill="#000" stroke="none"/>
<circle cx="683.5" cy="928" r="2" fill="#000" stroke="none"/>
<line x1="683.5" y1="866.4" x2="683.5" y2="889.5" stroke-width="1.9"/>
<polyline points="683.5,889.5 677.5,890.75 689.5,893.25 677.5,895.75 689.5,898.25 677.5,900.75 689.5,903.25 677.5,905.75 683.5,907" stroke-width="1.8" fill="none"/>
<line x1="683.5" y1="907" x2="683.5" y2="947" stroke-width="1.9"/>
<line x1="676" y1="944" x2="691" y2="944" stroke-width="2.2"/>
<text x="692" y="901" font-size="10" font-weight="normal" fill="#000" stroke="#000" stroke-width="0.4" textLength="23" lengthAdjust="spacingAndGlyphs">3114</text>
<polyline points="719,866.4 720.36,860.9 723.07,871.9 725.79,860.9 728.5,871.9 731.21,860.9 733.93,871.9 736.64,860.9 738,866.4" stroke-width="1.8" fill="none"/>
<polyline points="779,859.4 793,866.4 779,873.4 779,859.4" stroke-width="1.8" fill="none"/>
<line x1="793" y1="859.4" x2="793" y2="873.4" stroke-width="1.8"/>
<line x1="793" y1="859.4" x2="793" y2="873.4" stroke-width="1.9"/>
<text x="717" y="858" font-size="10" font-weight="normal" fill="#000" stroke="#000" stroke-width="0.4" textLength="23" lengthAdjust="spacingAndGlyphs">3124</text>
<text x="773" y="855" font-size="10" font-weight="normal" fill="#000" stroke="#000" stroke-width="0.4" textLength="24" lengthAdjust="spacingAndGlyphs">6122</text>
<rect x="1058" y="2" width="18" height="17.6" stroke="none" fill="#000"/>
<text x="1067" y="13.8" font-size="8.6" text-anchor="middle" fill="#fff" stroke="none">A4</text>
<text x="1078" y="18.7" font-size="10" font-weight="normal" fill="#000" stroke="#000" stroke-width="0.4" textLength="47.3" lengthAdjust="spacingAndGlyphs">-15V_LOT</text>
<polyline points="1040.5,52 1058.8,21.4 1311,21.6" stroke-width="2" fill="none"/>
<polygon points="1118,21.5 1132,17.5 1132,25.5" fill="#000" stroke="none" stroke-width="0"/>
<rect x="1053" y="143" width="17.5" height="17.5" stroke="none" fill="#000"/>
<text x="1061.75" y="154.75" font-size="8.6" text-anchor="middle" fill="#fff" stroke="none">A4</text>
<text x="1073" y="160.5" font-size="10" font-weight="normal" fill="#000" stroke="#000" stroke-width="0.4" textLength="50" lengthAdjust="spacingAndGlyphs">+13V_LOT</text>
<polyline points="1040,175 1053,162.3 1311,162.3" stroke-width="2" fill="none"/>
<polygon points="1119,162.3 1133,158.3 1133,166.3" fill="#000" stroke="none" stroke-width="0"/>
<circle cx="1300.6" cy="162.3" r="1.9" fill="#000" stroke="none"/>
<polyline points="1300.6,162.3 1300.6,219.3 1260,219.3" stroke-width="1.9" fill="none"/>
<polyline points="1240,219.3 1241.43,213.8 1244.29,224.8 1247.14,213.8 1250,224.8 1252.86,213.8 1255.71,224.8 1258.57,213.8 1260,219.3" stroke-width="1.8" fill="none"/>
<rect x="1053" y="199.5" width="17.5" height="17" stroke="none" fill="#000"/>
<text x="1061.75" y="211" font-size="8.6" text-anchor="middle" fill="#fff" stroke="none">A4</text>
<text x="1073" y="216.5" font-size="10" font-weight="normal" fill="#000" stroke="#000" stroke-width="0.4" textLength="24" lengthAdjust="spacingAndGlyphs">+12V</text>
<polyline points="1040,232 1053,219.3 1240,219.3" stroke-width="2" fill="none"/>
<polygon points="1119,219.3 1133,215.3 1133,223.3" fill="#000" stroke="none" stroke-width="0"/>
<text x="1238" y="211" font-size="10" font-weight="normal" fill="#000" stroke="#000" stroke-width="0.4" textLength="23" lengthAdjust="spacingAndGlyphs">3489</text>
<circle cx="1196.5" cy="219.3" r="1.9" fill="#000" stroke="none"/>
<line x1="1196.5" y1="219.3" x2="1196" y2="344" stroke-width="1.9"/>
<line x1="1191" y1="267" x2="1201.5" y2="267" stroke-width="1.9"/>
<path d="M1191,271.5 Q1196.2,267.6 1201.5,271.5" stroke-width="1.9" fill="none"/>
<text x="1199" y="265" font-size="9" font-weight="normal" fill="#000" stroke="#000" stroke-width="0.4" textLength="4.5" lengthAdjust="spacingAndGlyphs">+</text>
<text x="1205" y="273" font-size="10" font-weight="normal" fill="#000" stroke="#000" stroke-width="0.4" textLength="23.5" lengthAdjust="spacingAndGlyphs">2469</text>
<polyline points="1187.5,344 1204.5,344 1196,358 1187.5,344" stroke-width="1.8" fill="none"/>
<rect x="1285" y="256.5" width="26" height="20" stroke="none" fill="#3a3a3a"/>
<rect x="1150" y="402" width="32" height="31.6" stroke="none" fill="#000"/>
<text x="1154.7" y="423.8" font-size="17.5" font-weight="bold" fill="#fff" stroke="#fff" stroke-width="0.4" textLength="22.8" lengthAdjust="spacingAndGlyphs">A4</text>
<svg x="1184" y="410" width="127" height="30" overflow="hidden"><text x="1.5" y="21.8" font-size="13.2" font-weight="bold" fill="#000" stroke="#000" stroke-width="0.25" textLength="149.4" lengthAdjust="spacingAndGlyphs">FRAME DEFLECTION</text></svg>
<text x="1244.5" y="465.5" font-size="10" font-weight="normal" fill="#000" stroke="#000" stroke-width="0.4" textLength="48.8" lengthAdjust="spacingAndGlyphs">+13V_LOT</text>
<polygon points="1269.2,480 1265,467.5 1273.4,467.5" fill="#000" stroke="none" stroke-width="0"/>
<polyline points="1269.2,470 1269.2,550.6 1258.6,559.4" stroke-width="1.9" fill="none"/>
<text x="1083" y="490" font-size="10" font-weight="normal" fill="#000" stroke="#000" stroke-width="0.4" textLength="21" lengthAdjust="spacingAndGlyphs">HOT</text>
<line x1="1084" y1="494.2" x2="1246.7" y2="494.2" stroke-width="2" stroke-dasharray="11.5 4.5" stroke-dashoffset="0"/>
<line x1="1246.8" y1="494.2" x2="1246.8" y2="615" stroke-width="2" stroke-dasharray="11.5 4.5" stroke-dashoffset="0"/>
<text x="1083" y="506" font-size="10" font-weight="normal" fill="#000" stroke="#000" stroke-width="0.4" textLength="29" lengthAdjust="spacingAndGlyphs">COLD</text>
<text x="1208" y="503.5" font-size="10" font-weight="normal" fill="#000" stroke="#000" stroke-width="0.4" textLength="35.8" lengthAdjust="spacingAndGlyphs">FRAME</text>
<text x="1203" y="516.5" font-size="10" font-weight="normal" fill="#000" stroke="#000" stroke-width="0.4" textLength="40" lengthAdjust="spacingAndGlyphs">DRIVE +</text>
<text x="1208" y="599" font-size="10" font-weight="normal" fill="#000" stroke="#000" stroke-width="0.4" textLength="35.8" lengthAdjust="spacingAndGlyphs">FRAME</text>
<text x="1203" y="612.5" font-size="10" font-weight="normal" fill="#000" stroke="#000" stroke-width="0.4" textLength="40" lengthAdjust="spacingAndGlyphs">DRIVE -</text>
<text x="1083" y="609.5" font-size="10" font-weight="normal" fill="#000" stroke="#000" stroke-width="0.4" textLength="29" lengthAdjust="spacingAndGlyphs">COLD</text>
<line x1="1083" y1="612" x2="1112" y2="612" stroke-width="1.2"/>
<text x="1083" y="626" font-size="10" font-weight="normal" fill="#000" stroke="#000" stroke-width="0.4" textLength="21" lengthAdjust="spacingAndGlyphs">HOT</text>
<line x1="1084" y1="614.3" x2="1246.8" y2="614.3" stroke-width="2" stroke-dasharray="11.5 4.5" stroke-dashoffset="0"/>
<rect x="1051.6" y="506.5" width="17.2" height="17.5" stroke="none" fill="#000"/>
<text x="1060.2" y="518.25" font-size="8.6" text-anchor="middle" fill="#fff" stroke="none">A7</text>
<polyline points="1038,539 1052,526 1227,526 1227,583 1052,582.6 1038,596" stroke-width="1.9" fill="none"/>
<rect x="1051.6" y="563" width="17.2" height="17.4" stroke="none" fill="#000"/>
<text x="1060.2" y="574.7" font-size="8.6" text-anchor="middle" fill="#fff" stroke="none">A7</text>
<rect x="1211" y="537.7" width="69" height="34.3" stroke-width="2.5" fill="none"/>
<polyline points="1220.1,550.6 1234.2,550.6 1227,563.1 1220.1,550.6" stroke-width="1.9" fill="none"/>
<line x1="1220.1" y1="563.1" x2="1234.2" y2="563.1" stroke-width="1.9"/>
<line x1="1258.3" y1="546" x2="1258.3" y2="566" stroke-width="2.2"/>
<polyline points="1258.6,557 1266,566.8 1269.2,575 1269.2,901.9" stroke-width="1.9" fill="none"/>
<polygon points="1266.5,567.5 1259.5,564 1264.5,560" fill="#000" stroke="none" stroke-width="0"/>
<polyline points="1236.5,543 1242,547.5 1240.5,549 1251.5,555" stroke-width="1.6" fill="none"/>
<polygon points="1252,555.5 1245.5,554.5 1249.5,549.5" fill="#000" stroke="none" stroke-width="0"/>
<polyline points="1236.5,553 1242,557.5 1240.5,559 1251.5,565" stroke-width="1.6" fill="none"/>
<polygon points="1252,565.5 1245.5,564.5 1249.5,559.5" fill="#000" stroke="none" stroke-width="0"/>
<circle cx="1269.2" cy="615" r="1.9" fill="#000" stroke="none"/>
<line x1="1269.2" y1="615" x2="1309" y2="615" stroke-width="1.9"/>
<text x="1150.8" y="762.5" font-size="13.5" font-weight="bold" fill="#000" stroke="#000" stroke-width="0.4" textLength="128.7" lengthAdjust="spacingAndGlyphs">FRAME ROTATION</text>
<rect x="1054.3" y="783.3" width="17.2" height="17" stroke="none" fill="#000"/>
<text x="1062.9" y="794.8" font-size="8.6" text-anchor="middle" fill="#fff" stroke="none">A3</text>
<polyline points="1037,790 1051,803.5 1240,803.5" stroke-width="1.9" fill="none"/>
<polygon points="1252.5,803.5 1238.5,799.3 1238.5,807.7" fill="#000" stroke="none" stroke-width="0"/>
<rect x="1054.3" y="810.2" width="17.2" height="17" stroke="none" fill="#000"/>
<text x="1062.9" y="821.7" font-size="8.6" text-anchor="middle" fill="#fff" stroke="none">A3</text>
<polyline points="1037,815.4 1051,828.9 1240,828.9" stroke-width="1.9" fill="none"/>
<polygon points="1252.5,828.9 1238.5,824.7 1238.5,833.1" fill="#000" stroke="none" stroke-width="0"/>
<rect x="1054.3" y="835.8" width="17.2" height="17" stroke="none" fill="#000"/>
<text x="1062.9" y="847.3" font-size="8.6" text-anchor="middle" fill="#fff" stroke="none">A3</text>
<polyline points="1037,841.7 1051,855.2 1240,855.2" stroke-width="1.9" fill="none"/>
<polygon points="1252.5,855.2 1238.5,851 1238.5,859.4" fill="#000" stroke="none" stroke-width="0"/>
<rect x="1054.3" y="862.4" width="17.2" height="17" stroke="none" fill="#000"/>
<text x="1062.9" y="873.9" font-size="8.6" text-anchor="middle" fill="#fff" stroke="none">A3</text>
<polyline points="1037,867.9 1051,881.4 1240,881.4" stroke-width="1.9" fill="none"/>
<polygon points="1252.5,881.4 1238.5,877.2 1238.5,885.6" fill="#000" stroke="none" stroke-width="0"/>
<text x="1073.5" y="800" font-size="10" font-weight="normal" fill="#000" stroke="#000" stroke-width="0.4" textLength="48" lengthAdjust="spacingAndGlyphs">-15V_LOT</text>
<text x="1073.5" y="825.8" font-size="10" font-weight="normal" fill="#000" stroke="#000" stroke-width="0.4" textLength="51" lengthAdjust="spacingAndGlyphs">+13V_LOT</text>
<text x="1073.5" y="852" font-size="10" font-weight="normal" fill="#000" stroke="#000" stroke-width="0.4" textLength="24" lengthAdjust="spacingAndGlyphs">+12V</text>
<text x="1073.5" y="878" font-size="10" font-weight="normal" fill="#000" stroke="#000" stroke-width="0.4" textLength="29.5" lengthAdjust="spacingAndGlyphs">+141V</text>
<circle cx="1165" cy="829" r="1.9" fill="#000" stroke="none"/>
<polyline points="1165,829 1165,926.8 1185,926.8" stroke-width="1.9" fill="none"/>
<polyline points="1185,926.8 1186.43,921.3 1189.29,932.3 1192.14,921.3 1195,932.3 1197.86,921.3 1200.71,932.3 1203.57,921.3 1205,926.8" stroke-width="1.8" fill="none"/>
<line x1="1205" y1="926.8" x2="1224" y2="926.8" stroke-width="1.9"/>
<polyline points="1224,926.8 1225.43,921.3 1228.29,932.3 1231.14,921.3 1234,932.3 1236.86,921.3 1239.71,932.3 1242.57,921.3 1244,926.8" stroke-width="1.8" fill="none"/>
<polyline points="1244,926.8 1267.8,926.8 1267.8,910.8 1309,910.8" stroke-width="1.9" fill="none"/>
<polyline points="1269.2,901.9 1290,901.9" stroke-width="1.9" fill="none"/>
<polyline points="1290,901.9 1291.43,896.4 1294.29,907.4 1297.14,896.4 1300,907.4 1302.86,896.4 1305.71,907.4 1308.57,896.4 1310,901.9" stroke-width="1.8" fill="none"/>
<text x="1183" y="918" font-size="10" font-weight="normal" fill="#000" stroke="#000" stroke-width="0.4" textLength="24" lengthAdjust="spacingAndGlyphs">3442</text>
<text x="1222" y="918" font-size="10" font-weight="normal" fill="#000" stroke="#000" stroke-width="0.4" textLength="23.5" lengthAdjust="spacingAndGlyphs">3439</text>
<text x="1286" y="894" font-size="10" font-weight="normal" fill="#000" stroke="#000" stroke-width="0.4" textLength="24" lengthAdjust="spacingAndGlyphs">3440</text>
</svg>
</body></html>
